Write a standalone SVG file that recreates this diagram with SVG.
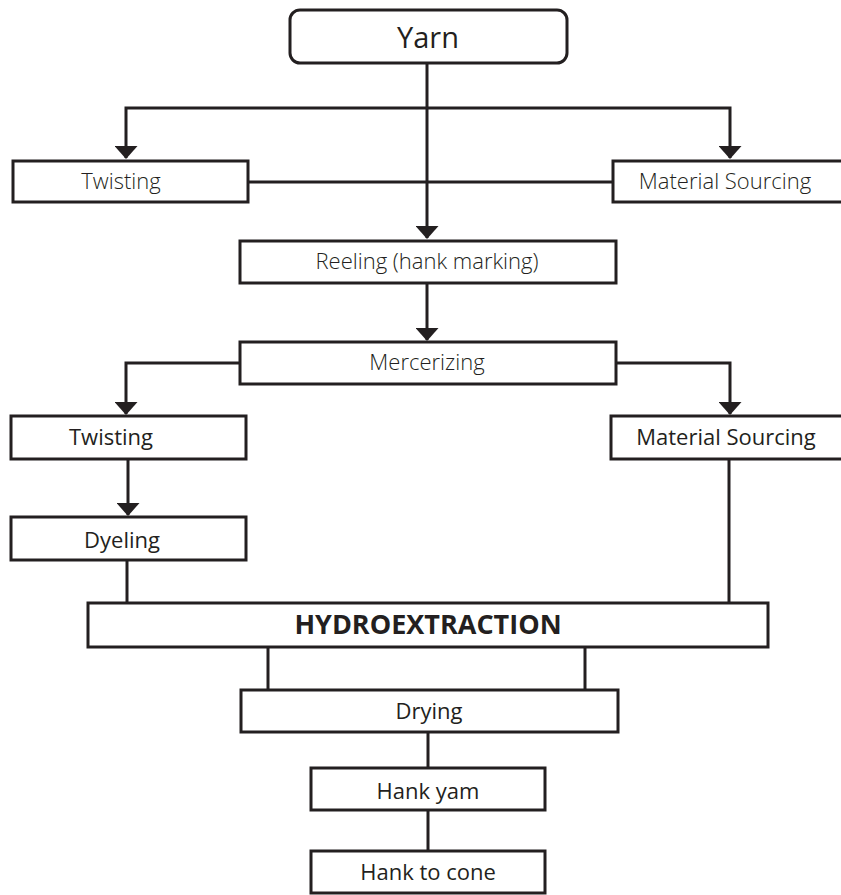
<svg xmlns="http://www.w3.org/2000/svg" width="841" height="895" viewBox="0 0 841 895">
<defs>
<marker id="arr" markerUnits="userSpaceOnUse" viewBox="0 0 13 23" markerWidth="13" markerHeight="23" refX="12" refY="11.5" orient="auto">
<path d="M0,0 L13,11.5 L0,23 Z" fill="#231f20"/>
</marker>
<style>
.box{fill:#fff;stroke:#231f20;stroke-width:3}
.ln{fill:none;stroke:#231f20;stroke-width:3}
.t{font-family:"Open Sans","Liberation Sans",sans-serif;fill:#231f20;text-anchor:middle;font-size:22px}
.lt{font-weight:300}
.rg{font-weight:400}
</style>
</defs>
<rect width="841" height="895" fill="#fff"/>
<g id="connectors">
<path class="ln" d="M427,63 V238" marker-end="url(#arr)"/>
<path class="ln" d="M427,108 H126 V158" marker-end="url(#arr)"/>
<path class="ln" d="M427,108 H730 V158" marker-end="url(#arr)"/>
<path class="ln" d="M248,182 H613"/>
<path class="ln" d="M427,283 V340" marker-end="url(#arr)"/>
<path class="ln" d="M240,363 H126 V414" marker-end="url(#arr)"/>
<path class="ln" d="M616,363 H730 V414" marker-end="url(#arr)"/>
<path class="ln" d="M128,459 V515" marker-end="url(#arr)"/>
<path class="ln" d="M127,560 V603"/>
<path class="ln" d="M729,459 V603"/>
<path class="ln" d="M268,647 V690"/>
<path class="ln" d="M585,647 V690"/>
<path class="ln" d="M428,732 V768"/>
<path class="ln" d="M428,810 V851"/>
</g>
<g id="yarn">
<rect class="box" x="290" y="10" width="277" height="53" rx="10"/>
<text class="t rg" x="428" y="48" style="font-size:29px">Yarn</text>
</g>
<g id="twisting1">
<rect class="box" x="13" y="161" width="235" height="41"/>
<text class="t lt" x="121" y="189">Twisting</text>
</g>
<g id="material1">
<rect class="box" x="613" y="161" width="235" height="41"/>
<text class="t lt" x="725" y="189">Material Sourcing</text>
</g>
<g id="reeling">
<rect class="box" x="240" y="241" width="376" height="42"/>
<text class="t lt" x="427" y="269">Reeling (hank marking)</text>
</g>
<g id="mercerizing">
<rect class="box" x="240" y="342" width="376" height="42"/>
<text class="t lt" x="427" y="370">Mercerizing</text>
</g>
<g id="twisting2">
<rect class="box" x="11" y="416" width="235" height="43"/>
<text class="t rg" x="111" y="445">Twisting</text>
</g>
<g id="material2">
<rect class="box" x="611" y="416" width="237" height="43"/>
<text class="t rg" x="726" y="445">Material Sourcing</text>
</g>
<g id="dyeling">
<rect class="box" x="11" y="517" width="235" height="43"/>
<text class="t rg" x="122" y="548">Dyeling</text>
</g>
<g id="hydro">
<rect class="box" x="88" y="603" width="680" height="44"/>
<text class="t" x="428" y="634" style="font-size:27px;font-weight:700">HYDROEXTRACTION</text>
</g>
<g id="drying">
<rect class="box" x="241" y="690" width="377" height="42"/>
<text class="t rg" x="429" y="719">Drying</text>
</g>
<g id="hankyam">
<rect class="box" x="311" y="768" width="234" height="42"/>
<text class="t rg" x="428" y="799">Hank yam</text>
</g>
<g id="hankcone">
<rect class="box" x="311" y="851" width="234" height="42"/>
<text class="t rg" x="428" y="880">Hank to cone</text>
</g>
</svg>
